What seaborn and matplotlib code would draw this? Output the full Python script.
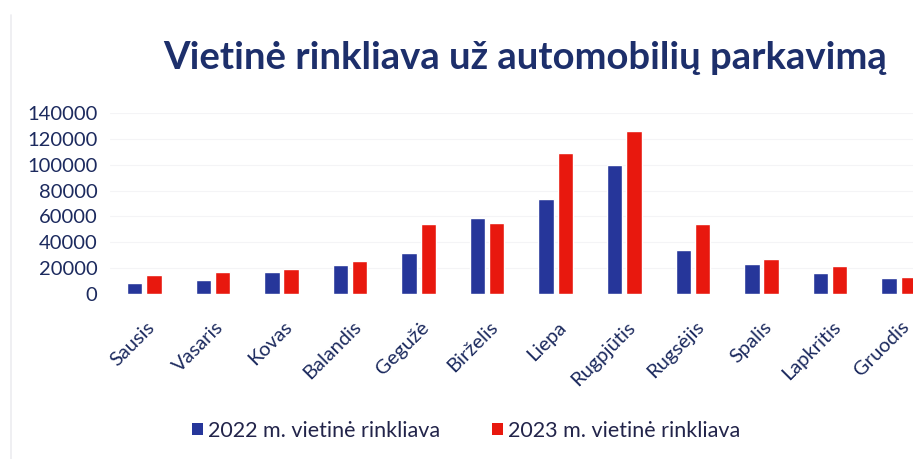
import matplotlib
matplotlib.use("Agg")
import matplotlib.pyplot as plt
import matplotlib.transforms as mtrans
import seaborn as sns
import pandas as pd
from matplotlib.patches import Patch
from matplotlib.lines import Line2D

months = ["Sausis", "Vasaris", "Kovas", "Balandis", "Gegužė", "Birželis",
          "Liepa", "Rugpjūtis", "Rugsėjis", "Spalis", "Lapkritis", "Gruodis"]
values_2022 = [8500, 10500, 17000, 22300, 31500, 58700, 73500, 100000, 34000, 23500, 16300, 12500]
values_2023 = [14500, 17000, 19500, 25500, 54000, 55300, 109000, 125800, 54500, 26800, 22000, 13500]
series = ["2022 m. vietinė rinkliava", "2023 m. vietinė rinkliava"]
yticks = [0, 20000, 40000, 60000, 80000, 100000, 120000, 140000]

df = pd.DataFrame({
    "month": months * 2,
    "value": values_2022 + values_2023,
    "series": [series[0]] * 12 + [series[1]] * 12,
})

sns.set_theme(style="white")
plt.rcParams["font.family"] = ["Lato", "DejaVu Sans"]

navy = "#1c2a5e"
colors = {series[0]: "#26369a", series[1]: "#e8180e"}

W, H = 913, 459
fig = plt.figure(figsize=(W / 100, H / 100), dpi=100)
ax = fig.add_axes([110 / W, (H - 294) / H, (913 - 110) / W, (294 - 113) / H])

sns.barplot(data=df, x="month", y="value", hue="series", order=months,
            hue_order=series, palette=colors, width=0.56, gap=0.2,
            saturation=1, ax=ax, legend=False)

ax.set_xlim(-0.5, 11.21)
ax.set_ylim(0, 140000)
ax.set_yticks(yticks)
ax.set_yticklabels([str(v) for v in yticks])
ax.set_xlabel("")
ax.set_ylabel("")
for s in ax.spines.values():
    s.set_visible(False)
ax.tick_params(axis="y", length=0, pad=9, labelsize=14.5, labelcolor=navy)
ax.tick_params(axis="x", length=0, pad=6, labelsize=14.5, labelcolor=navy)
offset = mtrans.ScaledTranslation(2 / 100, -16 / 100, fig.dpi_scale_trans)
for lbl in ax.get_xticklabels():
    lbl.set_rotation(45)
    lbl.set_ha("right")
    lbl.set_rotation_mode("anchor")
    lbl.set_transform(lbl.get_transform() + offset)
for v in yticks[1:]:
    ax.axhline(v, color="#f4f4f6", lw=0.8, zorder=0)

fig.text(525 / W, (H - 58) / H, "Vietinė rinkliava už automobilių parkavimą",
         ha="center", va="center", fontsize=27.5, fontweight="bold", color="#1d2f6b")

handles = [Patch(facecolor=colors[s], edgecolor="none") for s in series]
fig.legend(handles, series, loc="center", bbox_to_anchor=(466 / W, 28 / H),
           ncol=2, frameon=False, fontsize=15.5, handlelength=0.5, handleheight=0.5,
           handletextpad=0.25, columnspacing=2.4, labelcolor="#22244a")

fig.add_artist(Line2D([11 / W, 11 / W], [0, (H - 15) / H], transform=fig.transFigure,
                      color="#ececf0", lw=1.2))

fig.savefig("out.png", dpi=100)
